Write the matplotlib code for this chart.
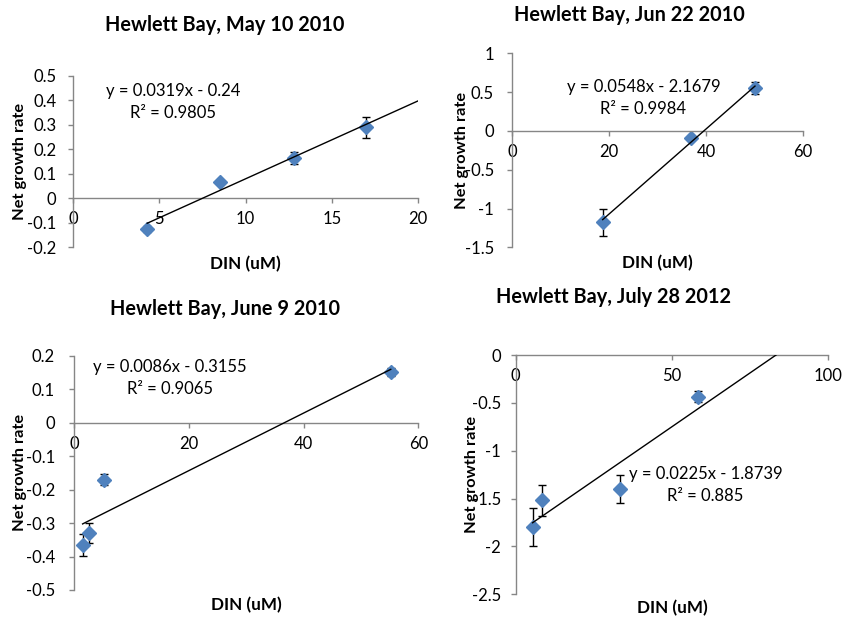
import numpy as np
import matplotlib
matplotlib.use("Agg")
import matplotlib.pyplot as plt

plt.rcParams['font.family'] = ['Lato', 'DejaVu Sans']
plt.rcParams['axes.unicode_minus'] = False

# --- data ---
titles = ["Hewlett Bay, May 10 2010", "Hewlett Bay, Jun 22 2010",
          "Hewlett Bay, June 9 2010", "Hewlett Bay, July 28 2012"]

may10_din = [4.3, 8.5, 12.8, 17.0]
may10_rate = [-0.128, 0.065, 0.165, 0.290]
may10_err = [0.012, 0.0, 0.024, 0.044]

jun22_din = [18.7, 37.0, 50.1]
jun22_rate = [-1.18, -0.095, 0.55]
jun22_err = [0.17, 0.0, 0.08]

jun9_din = [1.5, 2.7, 5.3, 55.2]
jun9_rate = [-0.366, -0.330, -0.170, 0.152]
jun9_err = [0.033, 0.031, 0.016, 0.012]

jul28_din = [5.4, 8.5, 33.4, 58.2]
jul28_rate = [-1.80, -1.52, -1.40, -0.436]
jul28_err = [0.197, 0.165, 0.15, 0.056]

slopes = [0.0319, 0.0548, 0.0086, 0.0225]
intercepts = [-0.24, -2.1679, -0.3155, -1.8739]
eq_labels = ["y = 0.0319x - 0.24", "y = 0.0548x - 2.1679",
             "y = 0.0086x - 0.3155", "y = 0.0225x - 1.8739"]
r2_labels = ["R² = 0.9805", "R² = 0.9984", "R² = 0.9065", "R² = 0.885"]
trend_end = [20, 50.1, 55.2, 83.3]

xticks = [[0, 5, 10, 15, 20], [0, 20, 40, 60], [0, 20, 40, 60], [0, 50, 100]]
yticks = [[-0.2, -0.1, 0, 0.1, 0.2, 0.3, 0.4, 0.5],
          [-1.5, -1, -0.5, 0, 0.5, 1],
          [-0.5, -0.4, -0.3, -0.2, -0.1, 0, 0.1, 0.2],
          [-2.5, -2, -1.5, -1, -0.5, 0]]

# --- layout (pixels: left, top, right, bottom) ---
W, H = 849, 621
boxes = [(73, 76, 418, 247), (512, 53.3, 803, 247.3),
         (74, 355.7, 418.3, 590), (515.7, 355, 828.3, 594.3)]
title_pos = [(225, 25), (629, 15), (225, 309), (614, 297)]
eq_pos = [(5.8, 0.438, 0.348), (27.1, 0.571, 0.287),
          (16.7, 0.165, 0.100), (60.7, -1.243, -1.473)]
ylabel_x = [20, 462, 20, 472]
xlabel_y = [264, 263, 605, 608]
ypads = [8.3, 9.4, 10.0, 7.0]

series = [(may10_din, may10_rate, may10_err),
          (jun22_din, jun22_rate, jun22_err),
          (jun9_din, jun9_rate, jun9_err),
          (jul28_din, jul28_rate, jul28_err)]

fig = plt.figure(figsize=(W / 100, H / 100), dpi=100)
gray = '#868686'
fs = 12

for i in range(4):
    x0, y0, x1, y1 = boxes[i]
    l, b, w, h = x0 / W, 1 - y1 / H, (x1 - x0) / W, (y1 - y0) / H
    ax = fig.add_axes([l, b, w, h])
    din, rate, err = series[i]
    ax.set_xlim(xticks[i][0], xticks[i][-1])
    ax.set_ylim(yticks[i][0], yticks[i][-1])

    xs = np.array([din[0], trend_end[i]])
    ax.plot(xs, slopes[i] * xs + intercepts[i], color='black', lw=1.0, zorder=3)
    ax.errorbar(din, rate, yerr=err, fmt='none', ecolor='black', elinewidth=1.0,
                capsize=2.6, capthick=1.0, zorder=2)
    ax.plot(din, rate, 'D', color='#4F81BD', markersize=6.8, mec='#4F81BD', zorder=2.5)

    for s in ['top', 'right']:
        ax.spines[s].set_visible(False)
    ax.spines['bottom'].set_position(('data', 0))
    for s in ['left', 'bottom']:
        ax.spines[s].set_color(gray)
        ax.spines[s].set_linewidth(1.0)
    ax.set_xticks(xticks[i])
    ax.set_yticks(yticks[i])
    ax.set_xticklabels(['%g' % v for v in xticks[i]])
    ax.set_yticklabels(['%g' % v for v in yticks[i]])
    ax.tick_params(axis='both', direction='out', length=3.6, width=1.0,
                   color=gray, labelsize=fs, labelcolor='black')
    ax.tick_params(axis='x', pad=6)
    ax.tick_params(axis='y', pad=ypads[i])
    ax.patch.set_visible(False)

    ex, ey1, ey2 = eq_pos[i]
    ax.text(ex, ey1, eq_labels[i], ha='center', va='center', fontsize=fs)
    ax.text(ex, ey2, r2_labels[i], ha='center', va='center', fontsize=fs)

    fig.text(title_pos[i][0] / W, 1 - title_pos[i][1] / H, titles[i],
             ha='center', va='center', fontsize=14.3, fontweight='bold')
    fig.text(ylabel_x[i] / W, b + h / 2, "Net growth rate", rotation=90,
             ha='center', va='center', fontsize=11.8, fontweight='bold')
    fig.text(l + w / 2, 1 - xlabel_y[i] / H, "DIN (uM)",
             ha='center', va='center', fontsize=12.3, fontweight='bold')

fig.savefig("out.png", dpi=100)
